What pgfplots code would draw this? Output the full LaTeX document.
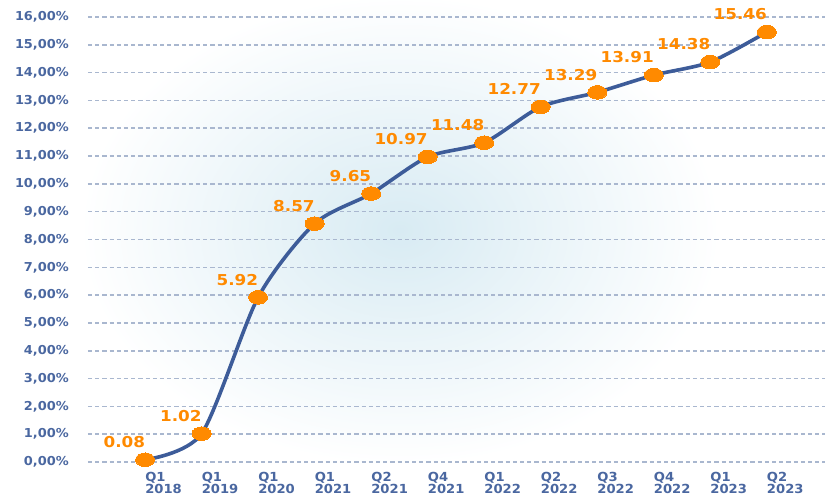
\documentclass[border=0pt]{standalone}
\usepackage{pgfplots}
\pgfplotsset{compat=1.18}
\usepackage{fontspec}
\setmainfont{DejaVu Sans}
\newfontfamily\tickfont[FakeStretch=1.05]{DejaVu Sans Bold}
\newfontfamily\valfont[FakeStretch=1.12]{DejaVu Sans Bold}
\definecolor{linecol}{HTML}{3D5C99}
\definecolor{orng}{HTML}{FF8A00}
\definecolor{tickcol}{HTML}{4A67A0}
\definecolor{gridcol}{HTML}{A9B7CF}
\definecolor{bgblue}{HTML}{D8EBF3}
\begin{document}
\begin{tikzpicture}[x=1pt,y=1pt]
\shade[inner color=bgblue, outer color=white] (312,232) ellipse [x radius=320, y radius=235];
\begin{axis}[
  at={(0,0)}, anchor=south west,
  scale only axis, width=737pt, height=445pt,
  xmin=-1.01, xmax=12.03, ymin=0, ymax=16,
  axis line style={draw=none},
  ytick={0,1,...,16},
  xtick={0,...,11},
  xticklabels={{Q1\\2018},{Q1\\2019},{Q1\\2020},{Q1\\2021},{Q2\\2021},{Q4\\2021},{Q1\\2022},{Q2\\2022},{Q3\\2022},{Q4\\2022},{Q1\\2023},{Q2\\2023}},
  /pgf/number format/assume math mode=true,
  yticklabel={\pgfmathprintnumber[fixed,fixed zerofill,precision=2,use comma]{\tick}\%},
  yticklabel style={font=\fontsize{12.3}{12.3}\tickfont, text=tickcol, inner sep=0pt, anchor=east, xshift=-19pt},
  xticklabel style={font=\fontsize{12.5}{10.8}\selectfont\tickfont, text=tickcol, inner sep=0pt, anchor=north west, align=left, yshift=-10pt},
  ymajorgrids, major grid style={draw=gridcol, line width=1.6pt, dash pattern=on 4.2pt off 3pt},
  major tick length=0pt,
  clip=false,
  point meta=explicit symbolic,
  nodes near coords,
  every node near coord/.append style={font=\fontsize{15}{15}\valfont, text=orng, anchor=south east, inner sep=0pt, xshift=0pt, yshift=12pt},
]
\addplot[linecol, line width=3.6pt, smooth, tension=0.45, mark=*, mark size=6.8pt,
  mark options={xscale=1.4, fill=orng, draw=orng, line width=0pt}]
coordinates {
(0,0.08) [0.08]
(1,1.02) [1.02]
(2,5.92) [5.92]
(3,8.57) [8.57]
(4,9.65) [9.65]
(5,10.97) [10.97]
(6,11.48) [11.48]
(7,12.77) [12.77]
(8,13.29) [13.29]
(9,13.91) [13.91]
(10,14.38) [14.38]
(11,15.46) [15.46]
};
\end{axis}
\pgfresetboundingbox
\path[use as bounding box] (-88,-36) rectangle (737,462);
\end{tikzpicture}
\end{document}
